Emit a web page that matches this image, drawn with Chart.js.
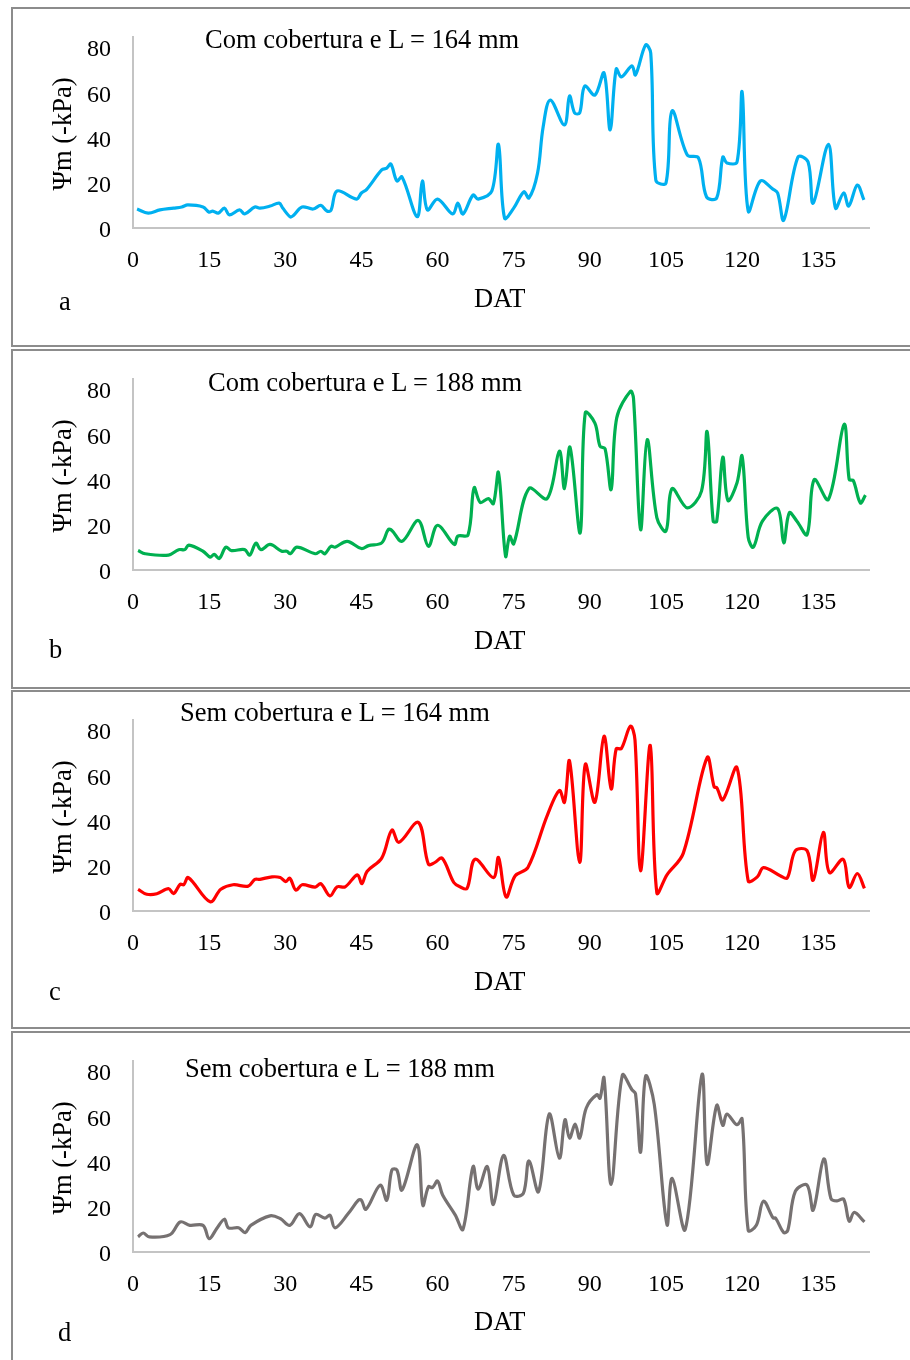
<!DOCTYPE html>
<html>
<head>
<meta charset="utf-8">
<script src="https://cdn.jsdelivr.net/npm/chart.js@4.4.0/dist/chart.umd.min.js"></script>
<style>
body{margin:0;width:910px;height:1360px;overflow:hidden;background:#fff;position:relative;font-family:"Liberation Serif","Times New Roman",serif}
.panel{position:absolute;left:11px;width:930px;border:2px solid #8c8c8c;box-sizing:border-box}
canvas{position:absolute;left:13px}
.txt{position:absolute;white-space:nowrap;color:#000;font-size:26.5px;line-height:1}
.ylab{transform:translate(-50%,-50%) rotate(-90deg)}
</style>
</head>
<body>
<div class="panel" style="top:7px;height:340px"></div>
<div class="panel" style="top:349px;height:340px"></div>
<div class="panel" style="top:690px;height:339px"></div>
<div class="panel" style="top:1031px;height:345px"></div>

<canvas id="cA" width="897" height="290" style="top:9px"></canvas>
<canvas id="cB" width="897" height="290" style="top:351px"></canvas>
<canvas id="cC" width="897" height="290" style="top:692px"></canvas>
<canvas id="cD" width="897" height="290" style="top:1033px"></canvas>

<div class="txt" style="left:205px;top:26px">Com cobertura e L = 164 mm</div>
<div class="txt" style="left:208px;top:369px">Com cobertura e L = 188 mm</div>
<div class="txt" style="left:180px;top:699px">Sem cobertura e L = 164 mm</div>
<div class="txt" style="left:185px;top:1055px">Sem cobertura e L = 188 mm</div>

<div class="txt ylab" style="left:62px;top:134px">Ψm (-kPa)</div>
<div class="txt ylab" style="left:62px;top:476px">Ψm (-kPa)</div>
<div class="txt ylab" style="left:62px;top:817px">Ψm (-kPa)</div>
<div class="txt ylab" style="left:62px;top:1158px">Ψm (-kPa)</div>

<div class="txt" style="left:474px;top:285px">DAT</div>
<div class="txt" style="left:474px;top:627px">DAT</div>
<div class="txt" style="left:474px;top:968px">DAT</div>
<div class="txt" style="left:474px;top:1308px">DAT</div>

<div class="txt" style="left:59px;top:288px">a</div>
<div class="txt" style="left:49px;top:636px">b</div>
<div class="txt" style="left:49px;top:978px">c</div>
<div class="txt" style="left:58px;top:1319px">d</div>

<script>
const xTicks = [0, 15, 30, 45, 60, 75, 90, 105, 120, 135];
const yTicks = [0, 20, 40, 60, 80];

// a) Com cobertura e L = 164 mm
const daysA = [0.8,3,5.3,8,9.6,10.8,13.8,15,15.7,16.8,18,19,21,22,24,25,27,28.8,29.5,31,31.6,33.3,35.5,37,38.2,39,40.2,44,45,46,49,50,50.8,52,53,56,57,58,60,63,64,65,67,68,70.7,72,73.2,75,77,78,79.7,80.8,82.2,85,86,87,88,89,91,92.8,94,95.2,96.2,98.3,99,101,102,103,105,106.2,109.2,111.4,113,115,116.2,117,119,120,121.2,123.6,126,127,128.2,131,133,134,137,138.4,140,141,142.7,144];
const valsA = [8.4,6.6,8,8.8,9.3,10.2,9.3,7,7.5,6.6,8.8,5.8,8,6.2,9.3,8.8,9.7,11,8.8,4.9,5.5,9.3,8.4,10,7.5,7.8,16.4,12.8,15.5,17,25.7,26.5,28.3,20.8,22.6,5,20.8,8,12.8,6.2,11,6.2,14.6,12.8,16.4,37,4.4,8.8,16,13.3,24.3,44.7,56.6,45.6,58.4,50.9,50.9,62.8,58.8,68.6,43.4,70.4,66.8,71.7,67.7,81,77.4,21.2,19.9,51.8,32.3,31,13.7,13.3,31.4,28.8,29.2,60.2,7.5,20.8,17.3,15.5,3.5,31.4,29.2,11,37,8.8,15.5,9.7,19,12.4];

// b) Com cobertura e L = 188 mm
const daysB = [1,2.4,7,9,10.2,11,13.8,15.2,16,17,18.3,19.4,22,23,24.2,25.2,27,29.3,30.3,31,32.3,35.9,37,37.8,39,39.8,42.2,45,46.4,49,50.3,51,53,56.2,58.2,60,63.3,64,66,67.2,68.4,70,71,72,73.4,74.2,75,78,81.6,84,85,86.1,88.1,89.1,91,92,93,94.2,95.3,98,98.6,100,101.3,103.2,105,106.2,109.2,112,113.1,114.3,115,116.2,117.2,119,120,121.2,122.2,124,127,128.2,129.3,130.8,132.8,134.2,137,140.1,141.1,141.9,143.3,144.3];
const valsB = [8.6,7.2,6.6,9,9,11,8.3,5.7,6.9,5.1,10.1,8.6,9,6.6,11.9,9,11.3,8.3,8.3,7.2,10.1,7.2,8.3,7.2,10.5,10.1,12.7,9.5,10.8,12,17.9,17.5,12.7,21.9,10.5,19.8,11.3,15,15.5,36.4,29.9,31.6,29.4,43.1,6.1,15,11.6,36,31.6,52.6,36,54.3,16.4,69.5,65,54.8,53.7,35.6,67.3,79.1,76,17.9,57.7,23.2,17.2,36,27.5,34.9,61.2,21.6,21.6,49.9,30.8,38.6,50.4,14.5,10.1,21.6,27.2,12,25.3,21.6,15.7,40,31.2,64.4,40,39.6,29.7,33.1];

// c) Sem cobertura e L = 164 mm
const daysC = [1,2.7,4.7,7,8,9.3,10,10.9,15.2,17.3,19.7,22.7,24,25,27.4,29,30.1,30.9,32.1,33.3,35.9,37,38.8,40.2,41.8,44.2,45.1,46.1,49,51,52.4,56.2,58.2,59.5,60.9,63.2,64.4,65.8,67.4,71,72,73.5,75.3,77.8,81.6,84,85,86,88,89.1,91,92.8,94.2,95.2,96.2,98,98.9,100,101.9,103.2,105.2,108.4,113.1,114.5,115,116.2,119,121.2,123,124.2,127.5,128.9,130.5,132.8,134,136,137.2,139.9,141.1,142.7,144.1];
const valsC = [9.6,7.4,7.6,9.9,7.7,11.8,11.6,14.8,4.1,9.6,11.6,11,14,14,15.1,14.8,13,14.5,9.2,11.6,10.6,12.1,6.7,10.7,10.7,16,12.1,17.5,23.4,35.8,30.4,39.2,20.7,21.5,23.4,12.6,10.7,10,22.9,14.8,23.7,6.2,15.6,19.2,42.2,53.3,48.1,66.4,21.5,64.9,48.1,77.3,54,71.8,71.8,81.8,75.6,17.8,73.3,8.1,16,25.5,67.8,54.8,54.6,49.2,63.4,13.3,15.1,19.2,15.6,14.6,26.7,26.7,13.6,34.8,17,22.9,10.4,16.6,10];

// d) Sem cobertura e L = 188 mm
const daysD = [1,2,3.2,7.3,9.3,11.2,13.8,15,16.5,18,18.8,20.8,22.1,23.2,27,29,30.9,32.8,34.9,36,37.8,38.8,39.8,42.4,44.4,45,45.9,48.7,50,51,52,53,56,57.1,58.2,59,60,61,63.5,65,67,68,69.8,71,73,75,76.9,78,79.9,82,84,85.1,86,87.1,88,89.3,91.4,92,92.8,94.2,96.4,98.3,99,100,101,102.7,105.2,106.2,108.8,112.1,113.1,115,116.2,117,119,120,121.2,122.8,124.2,126.1,126.6,128.2,129,130.5,132.8,134,136.1,137.5,138.7,140,141.1,142.1,144.1];
const valsD = [6.7,8.4,6.7,7.7,13.3,11.8,11.8,5.9,10.4,14.5,10.7,10.7,8.6,11.8,16,14.8,11.8,17,11.1,16.6,15,16.3,10.7,17,22.9,22.9,18.9,29.6,22.9,36.3,36.3,27.4,47.4,20.7,28.9,28.5,31.4,25.2,16.3,10,37.8,27.8,37.8,21,42.7,25.2,25.9,40.3,26.7,61,41.5,58.5,50.4,56.6,50.4,63.7,69.6,68,77,29.9,78.2,71.8,70,44.1,77.8,65.2,12.1,32.6,10,78.5,38.8,64.9,56,61,56.3,58.9,9.6,11.8,22.5,15.1,15,8.6,9.6,26.9,29.6,18.5,41.2,23.7,22.6,23.4,13.6,17.5,13.3];

const tickFont = {family: "'Liberation Serif', 'Times New Roman', serif", size: 24};

function makePanel(id, days, vals, color) {
    const ctx = document.getElementById(id).getContext("2d");
    new Chart(ctx, {
        type: "line",
        data: {
            datasets: [{
                data: days.map((d, i) => ({x: d, y: vals[i]})),
                borderColor: color,
                borderWidth: 3.2,
                tension: 0.35,
                pointRadius: 0,
                fill: false
            }]
        },
        options: {
            responsive: false,
            animation: false,
            layout: {padding: {top: 28, right: 41, left: 0, bottom: 0}},
            plugins: {legend: {display: false}, tooltip: {enabled: false}},
            scales: {
                x: {
                    type: "linear",
                    min: 0, max: 145,
                    grid: {display: false, drawTicks: false},
                    border: {display: true, color: "#c4c4c4", width: 2},
                    ticks: {color: "#000", font: tickFont, padding: 18, maxRotation: 0, autoSkip: false},
                    afterBuildTicks: s => { s.ticks = xTicks.map(v => ({value: v})); },
                    afterFit: s => { s.height = 71; }
                },
                y: {
                    min: 0, max: 84.5,
                    grid: {display: false, drawTicks: false},
                    border: {display: true, color: "#c4c4c4", width: 2},
                    ticks: {color: "#000", font: tickFont, padding: 22, labelOffset: 3},
                    afterBuildTicks: s => { s.ticks = yTicks.map(v => ({value: v})); },
                    afterFit: s => { s.width = 120; s.paddingTop = 0; s.paddingBottom = 0; }
                }
            }
        }
    });
}

makePanel("cA", daysA, valsA, "#00b0f0");
makePanel("cB", daysB, valsB, "#00b050");
makePanel("cC", daysC, valsC, "#ff0000");
makePanel("cD", daysD, valsD, "#767171");
</script>
</body>
</html>
